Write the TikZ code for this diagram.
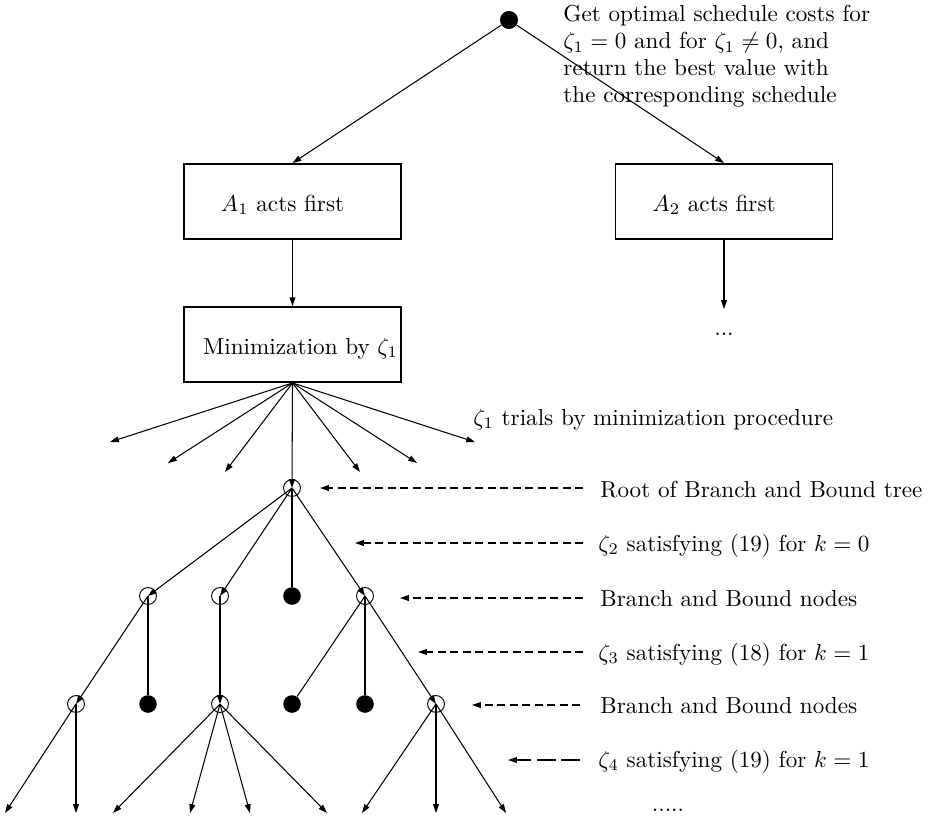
\documentclass[tikz,border=0pt]{standalone}
\usetikzlibrary{arrows.meta}
\begin{document}
\begin{tikzpicture}[x=0.432pt,y=-0.432pt,
  every node/.style={font=\fontsize{10}{11.6}\selectfont},
  box/.style={draw,line width=0.8pt,minimum width=93.7pt,minimum height=32.4pt,inner sep=0pt,text height=9.5pt,text depth=1pt},
  opn/.style={circle,draw,line width=0.4pt,minimum size=7.3pt,inner sep=0pt},
  fil/.style={circle,fill,minimum size=7.6pt,inner sep=0pt},
  arr/.style={-{Triangle[length=3.8pt,width=2.5pt]},line width=0.45pt},
  ln/.style={line width=0.45pt},
  darr/.style={arr,dash pattern=on 3.4pt off 2pt},
  ldarr/.style={arr,dash pattern=on 8pt off 2.5pt},
  lbl/.style={anchor=base west,inner sep=0pt}]
\useasboundingbox (0,0) rectangle (928,819);

% top
\node[fil,minimum size=7.8pt] (top) at (509,20) {};
\node[anchor=north west,inner sep=0pt,align=left] (goal) at (563,5)
  {Get optimal schedule costs for\\ $\zeta_1=0$ and for $\zeta_1\neq0$, and\\ return the best value with\\ the corresponding schedule};

% boxes
\node[box] (A1) at (292.5,201.5) {$A_1$ acts first\hspace*{8.6pt}};
\node[box] (A2) at (724,201.5) {$A_2$ acts first\hspace*{8.6pt}};
\node[box] (M) at (292.5,344.5) {\hspace*{7pt}Minimization by $\zeta_1$};
\node[inner sep=0pt,anchor=base] (dots1) at (724,335) {...};

\draw[arr] (top) -- (A1.north);
\draw[arr] (top) -- (A2.north);
\draw[arr] (A1.south) -- (M.north);
\draw[arr] (A2.south) -- (724,309) coordinate (a2e);

% fan
\coordinate (f1) at (110,442);
\coordinate (f2) at (168,463);
\coordinate (f3) at (225,472);
\coordinate (f4) at (360,472);
\coordinate (f5) at (417,463);
\coordinate (f6) at (475,442);
\foreach \f in {f1,f2,f3,f4,f5,f6} \draw[arr] (M.south) -- (\f);
\node[lbl] (trials) at (473,425) {$\zeta_1$ trials by minimization procedure};

% tree nodes
\node[opn] (R) at (292,488) {};
\node[opn] (a) at (148,596) {};
\node[opn] (b) at (220,596) {};
\node[fil] (c) at (292,596) {};
\node[opn] (d) at (365,596) {};
\node[opn] (e) at (76,704) {};
\node[fil] (f) at (148,704) {};
\node[opn] (g) at (220,704) {};
\node[fil] (h) at (292,704) {};
\node[fil] (i) at (365,704) {};
\node[opn] (j) at (436,704) {};

\draw[arr] (M.south) -- (R.center);
\draw[arr] (R.center) -- (a.center);
\draw[arr] (R.center) -- (b.center);
\draw[ln] (R.center) -- (c);
\draw[arr] (R.center) -- (d.center);
\draw[arr] (a.center) -- (e.center);
\draw[ln] (a.center) -- (f);
\draw[arr] (b.center) -- (g.center);
\draw[ln] (d.center) -- (h);
\draw[ln] (d.center) -- (i);
\draw[arr] (d.center) -- (j.center);

% leaves
\foreach \n/\x in {l1/5,l2/76,l3/113,l4/190,l5/250,l6/327,l7/362,l8/436,l9/506}
  \coordinate (\n) at (\x,813);
\draw[arr] (e.center) -- (l1);
\draw[arr] (e.center) -- (l2);
\draw[arr] (g.center) -- (l3);
\draw[arr] (g.center) -- (l4);
\draw[arr] (g.center) -- (l5);
\draw[arr] (g.center) -- (l6);
\draw[arr] (j.center) -- (l7);
\draw[arr] (j.center) -- (l8);
\draw[arr] (j.center) -- (l9);

% labels
\node[lbl] (t1) at (600,497) {Root of Branch and Bound tree};
\node[lbl] (t2) at (598,551) {$\zeta_2$ satisfying (19) for $k=0$};
\node[lbl] (t3) at (600,606) {Branch and Bound nodes};
\node[lbl] (t4) at (598,660) {$\zeta_3$ satisfying (18) for $k=1$};
\node[lbl] (t5) at (600,713) {Branch and Bound nodes};
\node[lbl] (t6) at (598,767) {$\zeta_4$ satisfying (19) for $k=1$};
\node[inner sep=0pt,anchor=base] (dots2) at (668,811) {.....};

\coordinate (s1) at (583,488); \coordinate (e1) at (320,488);
\coordinate (s2) at (583,543); \coordinate (e2) at (355,543);
\coordinate (s3) at (583,598); \coordinate (e3) at (400,598);
\coordinate (s4) at (583,652); \coordinate (e4) at (418,652);
\coordinate (s5) at (580,705); \coordinate (e5) at (472,705);
\coordinate (s6) at (580,760); \coordinate (e6) at (508,760);
\draw[darr] (s1) -- (e1);
\draw[darr] (s2) -- (e2);
\draw[darr] (s3) -- (e3);
\draw[darr] (s4) -- (e4);
\draw[darr] (s5) -- (e5);
\draw[ldarr] (s6) -- (e6);
\end{tikzpicture}
\end{document}
